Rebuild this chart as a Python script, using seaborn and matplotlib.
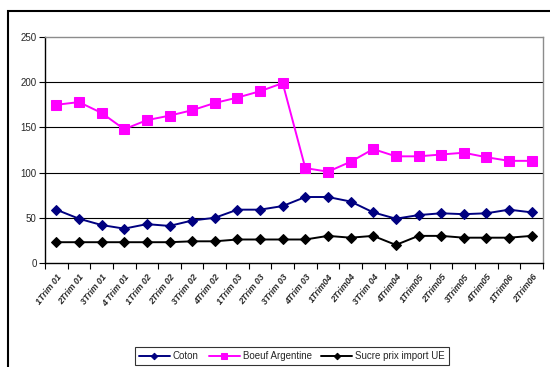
import matplotlib
matplotlib.use("Agg")
import matplotlib.pyplot as plt
from matplotlib.patches import Rectangle
from matplotlib.ticker import FixedLocator
import seaborn as sns
import pandas as pd

quarters = [
    "1Trim 01", "2Trim 01", "3Trim 01", "4 Trim 01",
    "1Trim 02", "2Trim 02", "3Trim 02", "4Trim 02",
    "1Trim 03", "2Trim 03", "3Trim 03", "4Trim 03",
    "1Trim04", "2Trim04", "3Trim 04", "4Trim04",
    "1Trim05", "2Trim05", "3Trim05", "4Trim05",
    "1Trim06", "2Trim06",
]
coton = [59, 49, 42, 38, 43, 41, 47, 50, 59, 59, 63, 73,
         73, 68, 56, 49, 53, 55, 54, 55, 59, 56]
boeuf = [175, 178, 166, 148, 158, 163, 169, 177, 183, 190, 199, 105,
         101, 112, 126, 118, 118, 120, 122, 117, 113, 113]
sucre = [23, 23, 23, 23, 23, 23, 24, 24, 26, 26, 26, 26,
         30, 28, 30, 20, 30, 30, 28, 28, 28, 30]
y_ticks = [0, 50, 100, 150, 200, 250]

sns.set_theme(style="white")
plt.rcParams["font.family"] = ["Liberation Sans", "DejaVu Sans"]

df = pd.DataFrame({"pos": range(len(quarters)), "Coton": coton,
                   "Boeuf Argentine": boeuf, "Sucre prix import UE": sucre})

fig = plt.figure(figsize=(5.5, 3.67), dpi=100)
ax = fig.add_axes([45 / 550, 1 - 263 / 367, 498 / 550, 226 / 367])

series = [
    ("Coton", "#000080", "D", 5.5),
    ("Boeuf Argentine", "#FF00FF", "s", 7.5),
    ("Sucre prix import UE", "#000000", "D", 5.5),
]
for name, color, marker, ms in series:
    sns.lineplot(data=df, x="pos", y=name, ax=ax, color=color, marker=marker,
                 markersize=ms, markeredgecolor=color, linewidth=1.4,
                 label=name, sort=False, legend=False)

ax.set_xlim(-0.5, len(quarters) - 0.5)
ax.set_ylim(0, 250)
ax.set_yticks(y_ticks)
ax.set_yticklabels([str(v) for v in y_ticks], fontsize=7)
ax.set_xticks(range(len(quarters)))
ax.set_xticklabels(quarters, rotation=52, ha="right", rotation_mode="anchor",
                   fontsize=6.3, fontweight="bold", fontstyle="italic")
ax.xaxis.set_minor_locator(FixedLocator([i - 0.5 for i in range(len(quarters) + 1)]))
ax.tick_params(axis="x", which="major", length=0, pad=7)
ax.tick_params(axis="x", which="minor", length=4, width=0.8, color="black",
               direction="out", bottom=True)
ax.tick_params(axis="y", length=4, width=0.8, color="black", direction="out",
               left=True, pad=2)
ax.set_xlabel("")
ax.set_ylabel("")

for v in y_ticks[1:-1]:
    ax.axhline(v, color="black", linewidth=0.8, zorder=0)

ax.spines["left"].set_color("black")
ax.spines["bottom"].set_color("black")
ax.spines["top"].set_color("#8c8c8c")
ax.spines["right"].set_color("#8c8c8c")
for s in ax.spines.values():
    s.set_linewidth(1.0)

handles, labels = ax.get_legend_handles_labels()
leg = fig.legend(handles, labels, loc="center", ncol=3,
                 bbox_to_anchor=(292 / 550, 1 - 356 / 367), fontsize=7,
                 frameon=True, fancybox=False, edgecolor="black",
                 handlelength=3.2, handletextpad=0.3, columnspacing=1.0,
                 borderpad=0.4, markerscale=0.6)
leg.get_frame().set_linewidth(0.8)

fig.patches.append(Rectangle((8 / 550, -0.1), 1.2, 1 - 11 / 367 + 0.1,
                             transform=fig.transFigure, fill=False,
                             edgecolor="black", linewidth=1.5))

fig.savefig("out.png", dpi=100)
